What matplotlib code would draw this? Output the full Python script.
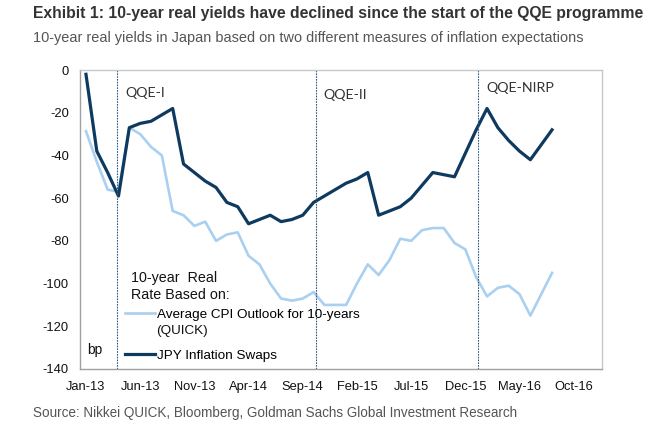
import numpy as np
import matplotlib
matplotlib.use("Agg")
import matplotlib.pyplot as plt

# month index, 0 = Jan-13
months = list(range(44))
cpi_outlook = [-28.6, -43, -56, -57, -27, -30, -36, -40, -66, -68, -73, -71,
               -80, -77, -76, -87, -91, -100, -107, -108, -107, -104, -110, -110,
               -110, -100, -91, -96, -89, -79, -80, -75, -74, -74, -81, -84,
               -97, -106, -102, -101, -105, -115, -105, -95]
jpy_swaps = [-2, -38, -48, -59, -27, -25, -24, -21, -18, -44, -48, -52,
             -55, -62, -64, -72, -70, -68, -71, -70, -68, -62, -59, -56,
             -53, -51, -48, -68, -66, -64, -60, -54, -48, -49, -50, -39,
             -28, -18, -27, -33, -38, -42, -35, -28]

tick_months = [0, 5, 10, 15, 20, 25, 30, 35, 40, 45]
tick_labels = ["Jan-13", "Jun-13", "Nov-13", "Apr-14", "Sep-14", "Feb-15",
               "Jul-15", "Dec-15", "May-16", "Oct-16"]

regime_starts = [2.9, 21.2, 36.2]
regime_names = ["QQE-I", "QQE-II", "QQE-NIRP"]
regime_label_y = [-10.8, -11.7, -8.4]

LIGHT = "#a9d0f0"
DARK = "#0f3a5f"

plt.rcParams["font.family"] = ["Liberation Sans", "DejaVu Sans"]
plt.rcParams["axes.unicode_minus"] = False

fig = plt.figure(figsize=(6.64, 4.36), dpi=100)
ax = fig.add_axes([0.1205, 0.1537, 0.786, 0.6857])

ax.plot(months, cpi_outlook, color=LIGHT, linewidth=1.9,
        label="Average CPI Outlook for 10-years")
ax.plot(months, jpy_swaps, color=DARK, linewidth=2.3,
        label="JPY Inflation Swaps")

for x, name, ly in zip(regime_starts, regime_names, regime_label_y):
    ax.axvline(x, color="#2f5a80", linewidth=0.8, linestyle=(0, (1.5, 1)))
    ax.text(x + 0.7, ly, name, fontsize=10.3, family=["Lato", "DejaVu Sans"],
            color="#333333", va="center", ha="left")

ax.set_xlim(-0.55, 47.6)
ax.set_ylim(-140, 0)
ax.set_yticks(np.arange(-140, 1, 20))
ax.set_xticks(tick_months)
ax.set_xticklabels(tick_labels)
ax.tick_params(axis="both", length=0, labelsize=9.3, colors="#111111")
ax.tick_params(axis="x", pad=9)
ax.tick_params(axis="y", pad=8)

for side in ["top", "right"]:
    ax.spines[side].set_color("#c8c8c8")
for side in ["left", "bottom"]:
    ax.spines[side].set_color("#a0a0a0")
for sp in ax.spines.values():
    sp.set_linewidth(1.0)

ax.text(0.1, -131, "bp", fontsize=10, color="#111111", va="center")

leg = ax.legend(loc="upper left", bbox_to_anchor=(0.086, 0.203),
                frameon=False, fontsize=9.7,
                handlelength=2.2, handletextpad=0.15, labelspacing=2.15,
                borderaxespad=0, borderpad=0)

# legend heading and second line of the CPI label, placed around the legend text
fig.canvas.draw()
W, H = fig.get_size_inches() * fig.dpi
first = leg.get_texts()[0].get_window_extent()
fig.text(first.x0 / W, (first.y0 - 4) / H, "(QUICK)", fontsize=9.7,
         color="#111111", va="top", ha="left")
fig.text((first.x0 - 26) / W, (first.y1 + 7) / H, "10-year  Real\nRate Based on:",
         fontsize=10.3, color="#111111", va="bottom", ha="left", linespacing=1.25)

fig.text(0.05, 0.968, "Exhibit 1: 10-year real yields have declined since the start of the QQE programme",
         fontsize=11.3, fontweight="bold", color="#333333", va="center")
fig.text(0.05, 0.913, "10-year real yields in Japan based on two different measures of inflation expectations",
         fontsize=10.45, color="#555555", va="center")
fig.text(0.05, 0.053, "Source: Nikkei QUICK, Bloomberg, Goldman Sachs Global Investment Research",
         fontsize=9.75, color="#555555", va="center")

plt.savefig("out.png", dpi=100)
plt.close()
